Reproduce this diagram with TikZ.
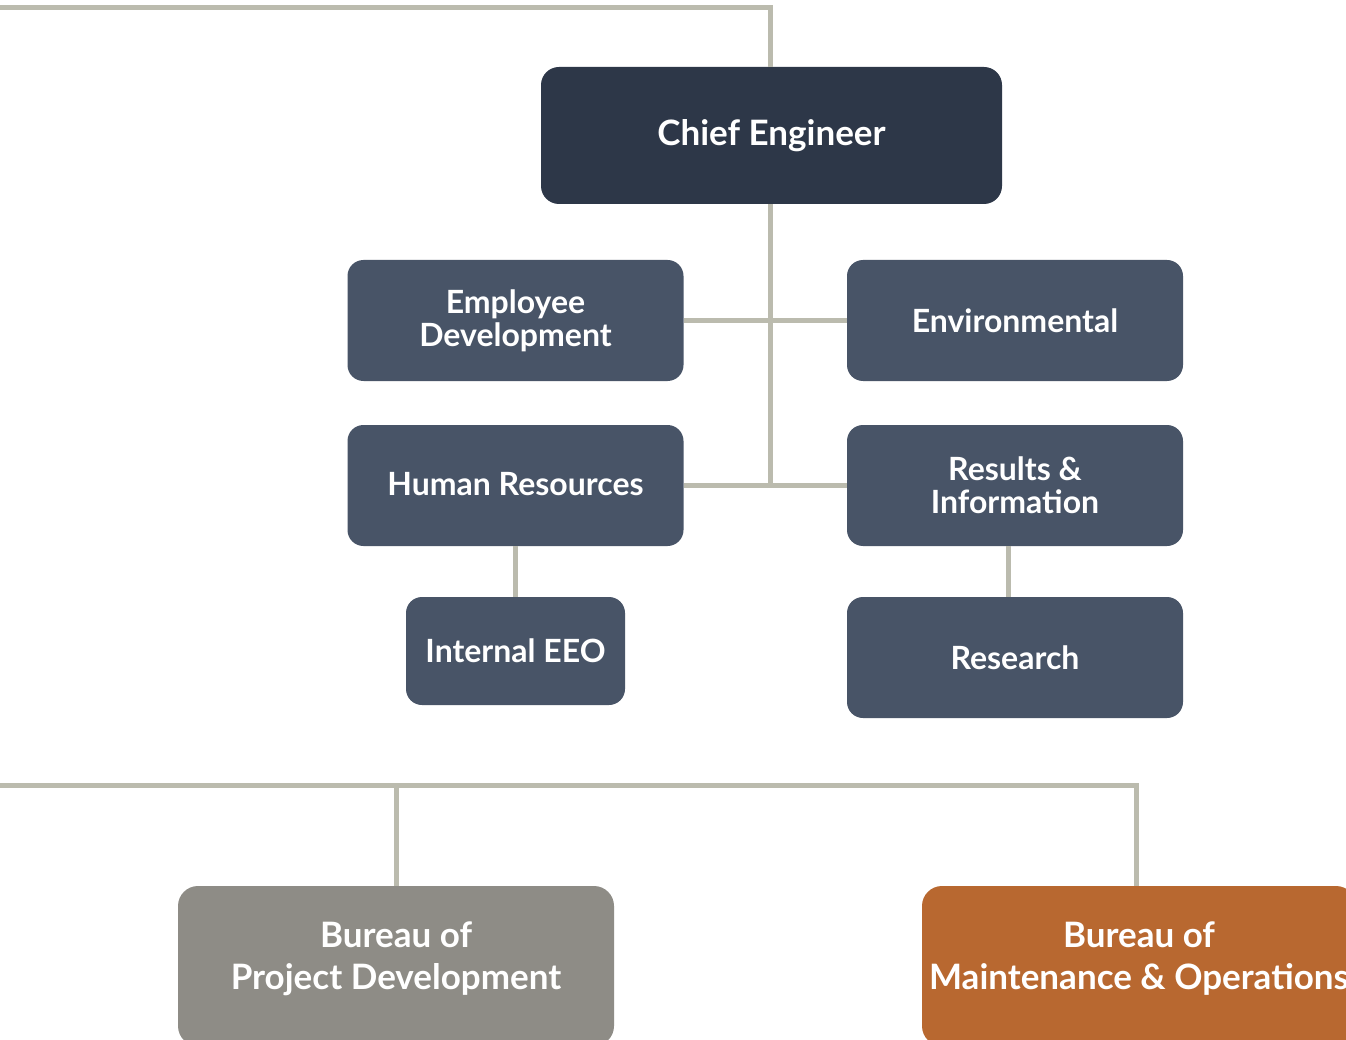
\documentclass[tikz,border=0pt]{standalone}
\usepackage{fontspec}
\setmainfont{Lato}
\definecolor{chiefc}{HTML}{2D3748}
\definecolor{unitc}{HTML}{485467}
\definecolor{bpdc}{HTML}{8E8C86}
\definecolor{bmoc}{HTML}{B86830}
\definecolor{linec}{HTML}{BBBBAE}
\begin{document}
\begin{tikzpicture}[x=1pt,y=-1pt,
  box/.style={rectangle, rounded corners=16pt, inner sep=0pt, align=center,
    text=white, font=\fontsize{32}{33}\selectfont\bfseries},
  unit/.style={box, fill=unitc, minimum width=336pt, minimum height=121pt},
  chiefbox/.style={box, fill=chiefc, rounded corners=18pt, minimum width=461pt, minimum height=137pt, font=\fontsize{35}{38}\selectfont\bfseries},
  bureau/.style={box, rounded corners=20pt, minimum width=436pt, minimum height=160pt},
  btext/.style={text=white, align=center, inner sep=0pt, yshift=7pt, font=\fontsize{35}{42}\selectfont\bfseries},
  conn/.style={draw=linec, line width=5pt}]
\useasboundingbox (0,0) rectangle (1346,1040);
\fill[white] (0,0) rectangle (1346,1040);

\node[chiefbox] (chief) at (771.5,135.5) {Chief Engineer};
\node[unit] (empdev) at (515.5,320.5) {Employee\\Development};
\node[unit] (env) at (1015,320.5) {Environmental};
\node[unit] (hr) at (515.5,485.5) {\raisebox{3pt}{Human Resources}};
\node[unit] (ri) at (1015,485.5) {Results \&\\Information};
\node[unit, minimum width=219pt, minimum height=108pt] (eeo) at (515.5,651) {Internal EEO};
\node[unit] (research) at (1015,657.5) {Research};
\node[bureau, fill=bpdc, label={[btext]center:Bureau of\\Project Development}] (bpd) at (396,966) {};
\node[bureau, fill=bmoc, minimum width=434pt, label={[btext]center:Bureau of\\Maintenance \& Operations}] (bmo) at (1139,966) {};

\coordinate (tl) at (0,8);
\coordinate (bl) at (0,785);
\coordinate (jn) at (770,485);

\draw[conn] (tl) -| ([xshift=-1.5pt]chief.north);
\draw[conn] ([xshift=-1.5pt]chief.south) -- (jn);
\draw[conn] (empdev.east) -- (env.west);
\draw[conn] (hr.east |- jn) -- (ri.west |- jn);
\draw[conn] (hr.south) -- (hr.south |- eeo.north);
\draw[conn] ([xshift=-7pt]ri.south) -- ([xshift=-7pt]ri.south |- research.north);
\draw[conn] (bl) -| ([xshift=-3pt]bmo.north);
\draw[conn] (bpd.north) -- (bpd.north |- bl);
\end{tikzpicture}
\end{document}
